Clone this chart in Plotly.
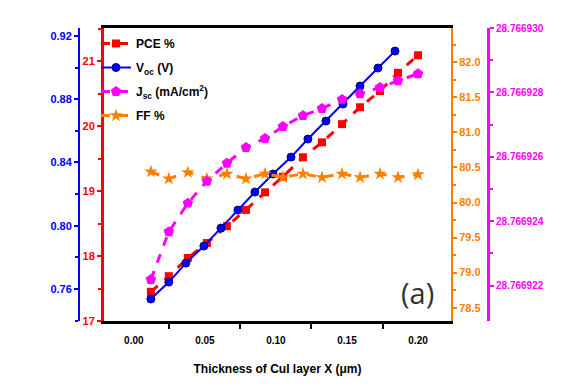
import plotly.graph_objects as go

# ---- data ----
x_main = [0.0120, 0.0246, 0.0380, 0.0514, 0.0655, 0.0789, 0.0923, 0.1049,
          0.1190, 0.1324, 0.1465, 0.1592, 0.1732, 0.1859, 0.2000]
x_voc = [0.0120, 0.0246, 0.0366, 0.0493, 0.0613, 0.0732, 0.0852, 0.0979,
         0.1106, 0.1225, 0.1352, 0.1472, 0.1592, 0.1718, 0.1838]
pce = [17.45, 17.69, 17.97, 18.20, 18.46, 18.71, 18.98, 19.22,
       19.52, 19.75, 20.03, 20.29, 20.54, 20.82, 21.09]
voc = [0.7537, 0.7644, 0.7764, 0.7872, 0.7985, 0.8099, 0.8213, 0.8327,
       0.8434, 0.8548, 0.8662, 0.8769, 0.8883, 0.8997, 0.9104]
jsc = [28.76692219, 28.76692367, 28.76692456, 28.76692524, 28.76692580,
       28.76692629, 28.76692657, 28.76692694, 28.76692728, 28.76692750,
       28.76692778, 28.76692796, 28.76692815, 28.76692836, 28.76692858]
ff = [80.44, 80.34, 80.43, 80.34, 80.41, 80.34, 80.41, 80.36,
      80.41, 80.36, 80.41, 80.36, 80.41, 80.36, 80.40]

x_ticks = [0.00, 0.05, 0.10, 0.15, 0.20]
x_ticklabels = ["0.00", "0.05", "0.10", "0.15", "0.20"]
pce_ticks = [17, 18, 19, 20, 21]
voc_ticks = [0.76, 0.80, 0.84, 0.88, 0.92]
ff_ticks = [78.5, 79.0, 79.5, 80.0, 80.5, 81.0, 81.5, 82.0]
jsc_ticks = [28.766922, 28.766924, 28.766926, 28.766928, 28.766930]

RED = "#FF0000"
BLUE = "#0000FF"
MAG = "#FF00FF"
ORG = "#FF8000"
FONT = "Liberation Sans, Arial"

fig = go.Figure()
fig.add_trace(go.Scatter(x=x_main, y=pce, name="PCE %", mode="lines+markers",
                         legendgroup="a",
                         line=dict(color=RED, width=3, dash="dash"),
                         marker=dict(symbol="square", size=8, color=RED),
                         yaxis="y"))
fig.add_trace(go.Scatter(x=x_voc, y=voc, name="V<sub>oc</sub> (V)", mode="lines+markers",
                         legendgroup="b",
                         line=dict(color=BLUE, width=2),
                         marker=dict(symbol="circle", size=8, color=BLUE,
                                     line=dict(color="#000080", width=1)),
                         yaxis="y2"))
fig.add_trace(go.Scatter(x=x_main, y=jsc, name="J<sub>sc</sub> (mA/cm<sup>2</sup>)",
                         mode="lines+markers", legendgroup="c",
                         line=dict(color=MAG, width=3, dash="dash"),
                         marker=dict(symbol="pentagon", size=11, color=MAG),
                         yaxis="y4"))
fig.add_trace(go.Scatter(x=x_main, y=ff, name="FF %", mode="lines+markers",
                         legendgroup="d",
                         line=dict(color=ORG, width=3, dash="dash"),
                         marker=dict(symbol="star", size=10, color=ORG),
                         yaxis="y3"))

W, H = 563, 389
L, R, T, B = 104, 451, 28, 321
dx = [L / W, R / W]
dy = [(H - B) / H, (H - T) / H]


def tickfont(c, s=11):
    return dict(family=FONT, size=s, color=c, weight="bold")


fig.update_layout(
    width=W, height=H,
    margin=dict(l=0, r=0, t=0, b=0, autoexpand=False),
    paper_bgcolor="white", plot_bgcolor="white",
    showlegend=True,
    legend=dict(x=96 / W, y=(H - 29) / H, xanchor="left", yanchor="top",
                bgcolor="rgba(0,0,0,0)",
                font=dict(family=FONT, size=12, color="black", weight="bold"),
                traceorder="grouped", tracegroupgap=5, itemsizing="trace"),
    xaxis=dict(domain=dx, range=[-0.021, 0.2232], showgrid=False, zeroline=False,
               automargin=False,
               showline=True, linecolor="black", linewidth=3, mirror=True,
               tickvals=x_ticks, ticktext=x_ticklabels, ticks="",
               ticklabelstandoff=8,
               tickfont=tickfont("black", 10),
               minor=dict(tickvals=[0.025, 0.075, 0.125, 0.175], ticks="outside",
                          ticklen=5, tickwidth=2, tickcolor="black"),
               title=dict(text="Thickness of CuI layer X (\u03bcm)",
                          font=dict(family=FONT, size=12, color="black", weight="bold"),
                          standoff=20)),
    yaxis=dict(domain=dy, range=[17, 21.51], showgrid=False, zeroline=False,
               automargin=False,
               showline=True, linecolor=RED, linewidth=3,
               tickvals=pce_ticks, ticks="outside", ticklen=4, tickwidth=2, tickcolor=RED,
               tickfont=tickfont(RED),
               minor=dict(tickvals=[17.5, 18.5, 19.5, 20.5, 21.5], ticks="outside",
                          ticklen=3, tickwidth=2, tickcolor=RED)),
    yaxis2=dict(domain=dy, range=[0.7398, 0.925], overlaying="y", side="left",
                anchor="free", position=79 / W, automargin=False,
                showgrid=False, zeroline=False,
                showline=True, linecolor=BLUE, linewidth=2,
                tickvals=voc_ticks, tickformat=".2f", ticks="outside", ticklen=4, tickwidth=2,
                tickcolor=BLUE, tickfont=tickfont(BLUE),
                minor=dict(tickvals=[0.74, 0.78, 0.82, 0.86, 0.90], ticks="outside",
                           ticklen=3, tickwidth=2, tickcolor=BLUE)),
    yaxis3=dict(domain=dy, range=[78.31, 82.49], overlaying="y", side="right",
                anchor="x", automargin=False, showgrid=False, zeroline=False,
                showline=True, linecolor=ORG, linewidth=2,
                tickvals=ff_ticks, tickformat=".1f", ticks="outside", ticklen=4, tickwidth=2,
                tickcolor=ORG, tickfont=tickfont(ORG),
                minor=dict(tickvals=[78.75, 79.25, 79.75, 80.25, 80.75, 81.25, 81.75, 82.25],
                           ticks="outside", ticklen=3, tickwidth=2, tickcolor=ORG)),
    yaxis4=dict(domain=dy, range=[28.7669209, 28.76693], overlaying="y", side="right",
                anchor="free", position=488 / W, automargin=False,
                showgrid=False, zeroline=False,
                showline=True, linecolor=MAG, linewidth=3,
                tickvals=jsc_ticks, tickformat=".6f", ticks="outside", ticklen=4,
                tickwidth=2, tickcolor=MAG, tickfont=tickfont(MAG, 10),
                minor=dict(tickvals=[28.766923, 28.766925, 28.766927, 28.766929],
                           ticks="outside", ticklen=3, tickwidth=2, tickcolor=MAG)),
    annotations=[dict(text="(a)", xref="paper", yref="paper",
                      x=417 / W, y=(H - 292) / H, xanchor="center", yanchor="middle",
                      showarrow=False,
                      font=dict(family="Open Sans, Liberation Sans", size=29, color="#333333"))],
)

fig.write_html("out.html", config={"displayModeBar": False},
               post_script="document.body.style.margin='0';document.body.style.overflow='hidden';")
